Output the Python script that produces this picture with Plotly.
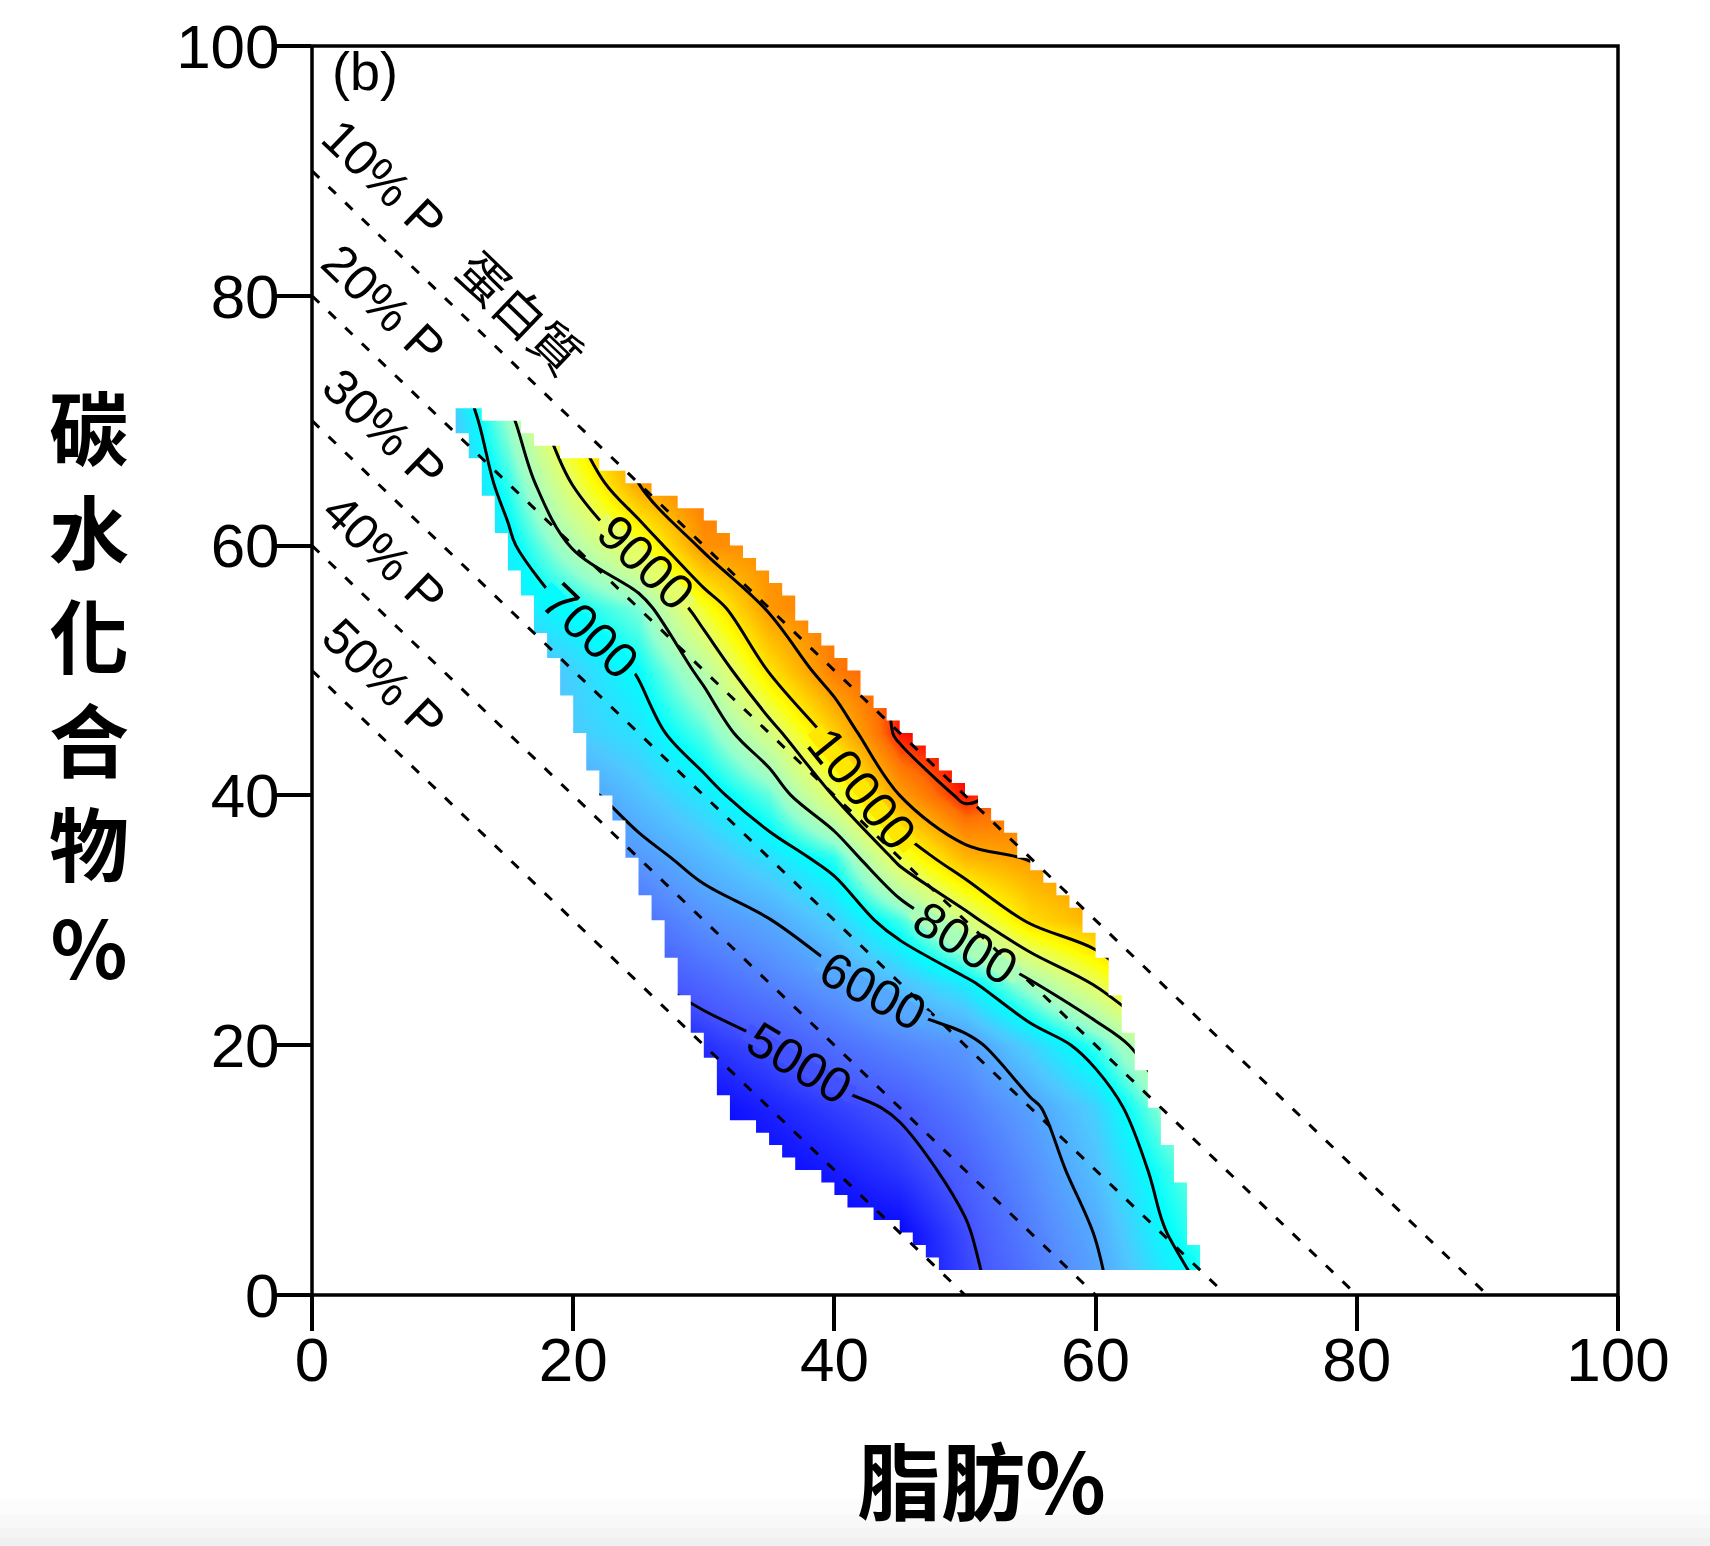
import plotly.graph_objects as go

# ---------------- data ----------------
FAT_GRID = [10, 15, 20, 25, 30, 35, 40, 45, 50, 55, 60, 65, 70]
CARB_GRID = [0, 5, 10, 15, 20, 25, 30, 35, 40, 45, 50, 55, 60, 65, 70, 75]
N = None
# estimated value field (rows = carbohydrate %, columns = fat %)
ENERGY = [
    [N, N, N, N, N, N, 4400, 4400, 4850, 5300, 5850, 6630, 7200],
    [N, N, N, N, N, 4400, 4400, 4450, 4950, 5490, 6020, 6940, 7600],
    [N, N, N, N, 4400, 4450, 4600, 4800, 5150, 5670, 6280, 7180, 7900],
    [N, N, N, N, 4450, 4650, 4850, 5060, 5450, 5900, 6500, 7680, 8600],
    [N, N, N, 4400, 4750, 4980, 5300, 5570, 5800, 6500, 7300, 8670, 9500],
    [N, N, N, 4920, 5200, 5520, 5830, 6290, 6830, 7910, 9100, 10500, N],
    [N, N, 4980, 5300, 5720, 5980, 6470, 7330, 8670, 10140, 10800, 11300, N],
    [N, N, 5400, 5800, 6200, 6650, 7220, 9250, 10670, 11050, 11300, N, N],
    [N, N, 5800, 6290, 6760, 7470, 9050, 11000, 12200, 11600, N, N, N],
    [N, 5900, 6400, 6700, 7430, 8670, 10330, 12200, 12600, 11950, N, N, N],
    [N, 6020, 6500, 7050, 8190, 10050, 11500, 12000, 11950, N, N, N, N],
    [5700, 6700, 7050, 7600, 9430, 11100, 11600, 11600, N, N, N, N, N],
    [5800, 6850, 8070, 9260, 11200, 11250, 11200, N, N, N, N, N, N],
    [6100, 7250, 9050, 11000, 11600, 11500, N, N, N, N, N, N, N],
    [6100, 7750, 10050, 11500, N, N, N, N, N, N, N, N, N],
    [6500, 8800, 10800, N, N, N, N, N, N, N, N, N, N],
]
Z_MIN, Z_MAX = 4400, 12300
# blue -> cyan -> yellow -> red ramp (perceptual interpolation), evenly spaced stops
COLOR_STOPS = [(0, 0, 255), (72, 90, 255), (87, 146, 255), (79, 200, 255), (0, 255, 255),
               (147, 255, 207), (196, 255, 158), (229, 255, 104), (255, 255, 0),
               (255, 209, 0), (255, 161, 0), (255, 113, 4), (255, 0, 0)]

CONTOUR_LEVELS = [5000, 12000, 1000]  # start, end, step
LABEL_TEXT = ["5000", "6000", "7000", "8000", "9000", "10000"]
LABEL_VALUE = [5000, 6000, 7000, 8000, 9000, 10000]
LABEL_FAT = [37.3, 42.9, 21.3, 50.0, 25.5, 42.1]
LABEL_CARB = [18.6, 24.3, 53.2, 28.2, 58.65, 40.5]
LABEL_ANGLE = [31, 28, 44, 32, 44, 51]

# extent of the data domain (fat %, carbohydrate %)
BOUNDARY_FAT = [11.3, 12.7, 12.7, 14.9, 17.2, 21.5, 23.7, 25.9, 29.2, 31.5, 34.3, 37.8,
                40.4, 42.2, 44.7, 48.0, 50.9, 54.2, 56.7, 59.3, 60.3, 61.8, 63.1, 64.6,
                66.2, 67.4, 67.6, 48.7, 47.3, 45.2, 42.2, 39.4, 35.8, 32.7, 31.4, 30.2,
                28.7, 27.9, 26.6, 25.1, 23.6, 22.0, 20.3, 18.7, 17.2, 15.7, 14.1, 12.9, 11.3]
BOUNDARY_CARB = [71.0, 71.0, 70.0, 70.0, 68.2, 66.6, 65.6, 64.6, 62.9, 60.8, 57.9, 54.1,
                 51.5, 48.8, 45.4, 42.7, 39.5, 35.8, 32.9, 29.9, 27.5, 23.3, 18.8, 14.5,
                 10.0, 5.4, 2.0, 2.0, 3.6, 5.4, 7.0, 8.9, 11.6, 14.2, 16.1, 19.6,
                 23.0, 25.7, 29.9, 33.1, 37.4, 40.5, 45.6, 50.1, 54.1, 57.9, 62.1, 65.6, 69.3]
CELL = 1.0  # resolution of the underlying data grid (%)

PROTEIN_LEVELS = [10, 20, 30, 40, 50]
PROTEIN_LABELS = ["10% P", "20% P", "30% P", "40% P", "50% P"]
PROTEIN_LABEL_FAT = 5.5

TICKS = [0, 20, 40, 60, 80, 100]
X_TITLE = "脂肪%"
Y_TITLE = "碳<br>水<br>化<br>合<br>物<br>%"
PANEL_TAG = "(b)"
PROTEIN_WORD = "蛋白質"

# ---------------- helpers ----------------
LAT = "Liberation Sans, Arial, Helvetica, sans-serif"
CJK = "Noto Sans CJK TC, Noto Sans CJK JP, Noto Sans CJK SC, sans-serif"

n_stops = len(COLOR_STOPS)
colorscale = [[i / (n_stops - 1), "rgb(%d,%d,%d)" % c] for i, c in enumerate(COLOR_STOPS)]


def level_color(v):
    t = min(max((v - Z_MIN) / (Z_MAX - Z_MIN), 0), 1) * (n_stops - 1)
    i = min(int(t), n_stops - 2)
    f = t - i
    a, b = COLOR_STOPS[i], COLOR_STOPS[i + 1]
    return "rgb(%d,%d,%d)" % tuple(round(a[k] + (b[k] - a[k]) * f) for k in range(3))


def row_extent(yc):
    xs = []
    n = len(BOUNDARY_FAT)
    for i in range(n):
        x1, y1 = BOUNDARY_FAT[i], BOUNDARY_CARB[i]
        x2, y2 = BOUNDARY_FAT[(i + 1) % n], BOUNDARY_CARB[(i + 1) % n]
        if (y1 <= yc < y2) or (y2 <= yc < y1):
            xs.append(x1 + (yc - y1) * (x2 - x1) / (y2 - y1))
    return min(xs), max(xs)


# outline of the data cells (stair-stepped, on the data grid)
ylo = round(min(BOUNDARY_CARB))
yhi = round(max(BOUNDARY_CARB))
rows = []
k = ylo
while k < yhi - 1e-9:
    lo, hi = row_extent(k + CELL / 2)
    rows.append((k, round(lo / CELL) * CELL, round(hi / CELL) * CELL))
    k += CELL
pts = []
for k, lo, hi in rows:
    pts += [(hi, k), (hi, k + CELL)]
for k, lo, hi in reversed(rows):
    pts += [(lo, k + CELL), (lo, k)]

# ---------------- figure ----------------
fig = go.Figure()
fig.add_trace(go.Heatmap(
    x=FAT_GRID, y=CARB_GRID, z=ENERGY, zmin=Z_MIN, zmax=Z_MAX,
    colorscale=colorscale, zsmooth="best", showscale=False, hoverinfo="skip"))

fig.add_trace(go.Contour(
    x=FAT_GRID, y=CARB_GRID, z=ENERGY,
    contours=dict(coloring="none", start=CONTOUR_LEVELS[0], end=CONTOUR_LEVELS[1],
                  size=CONTOUR_LEVELS[2], showlabels=False),
    line=dict(color="black", width=3, smoothing=1.0),
    showscale=False, hoverinfo="skip"))

shapes = []
# light shading at the very bottom of the page
for y0, y1, col in [(-0.1636, -0.1756, "#FCFCFC"), (-0.1756, -0.186, "#F8F8F8"),
                    (-0.186, -0.1939, "#F4F4F4"), (-0.1939, -0.21, "#F0F0F0")]:
    shapes.append(dict(type="rect", xref="paper", yref="paper", x0=-0.25, x1=1.08,
                       y0=y0, y1=y1, fillcolor=col, line=dict(width=0), layer="below"))
# white mask outside the data domain
outer = "M0,0L100,0L100,100L0,100Z"
inner = "M" + "L".join(f"{x},{y}" for x, y in pts) + "Z"
shapes.append(dict(type="path", xref="x", yref="y", path=outer + inner,
                   fillcolor="white", fillrule="evenodd", line=dict(width=0), layer="above"))
# constant-protein dashed lines
for p in PROTEIN_LEVELS:
    shapes.append(dict(type="line", xref="x", yref="y", x0=0, y0=100 - p, x1=100 - p, y1=0,
                       line=dict(color="black", width=3, dash="10px,13px"), layer="above"))
# frame
shapes.append(dict(type="rect", xref="paper", yref="paper", x0=0, y0=0, x1=1, y1=1,
                   line=dict(color="black", width=3.5), fillcolor="rgba(0,0,0,0)", layer="above"))

annotations = []
# contour labels: break in the line (painted in the level's own colour) + text
LABEL_SIZE = 50
for txt, val, fx, cy, ang in zip(LABEL_TEXT, LABEL_VALUE, LABEL_FAT, LABEL_CARB, LABEL_ANGLE):
    w = len(txt) * 0.556 * LABEL_SIZE + 12
    annotations.append(dict(x=fx, y=cy, xref="x", yref="y", text=txt, showarrow=False,
                            textangle=ang, width=w, height=16, borderpad=0,
                            bgcolor=level_color(val),
                            font=dict(family=LAT, size=LABEL_SIZE, color="rgba(0,0,0,0)")))
    annotations.append(dict(x=fx, y=cy, xref="x", yref="y", text=txt, showarrow=False,
                            textangle=ang,
                            font=dict(family=LAT, size=LABEL_SIZE, color="black")))

for p, lab in zip(PROTEIN_LEVELS, PROTEIN_LABELS):
    annotations.append(dict(x=PROTEIN_LABEL_FAT, y=99.3 - p, xref="x", yref="y", text=lab,
                            showarrow=False, textangle=44,
                            font=dict(family=LAT, size=50, color="black")))
annotations.append(dict(x=16.1, y=78.8, xref="x", yref="y", text=PROTEIN_WORD, showarrow=False,
                        textangle=44, font=dict(family=CJK, size=50, color="black")))
annotations.append(dict(x=4.05, y=98.0, xref="x", yref="y", text=PANEL_TAG, showarrow=False,
                        font=dict(family=LAT, size=54, color="black")))
annotations.append(dict(x=0.513, y=-0.146, xref="paper", yref="paper", text=X_TITLE,
                        showarrow=False, xanchor="center", yanchor="middle",
                        font=dict(family=CJK, size=84, color="black", weight="bold")))
annotations.append(dict(x=-0.1707, y=0.489, xref="paper", yref="paper", text=Y_TITLE,
                        showarrow=False, xanchor="center", yanchor="middle", align="center",
                        font=dict(family=CJK, size=80, color="black", weight="bold")))

axis_common = dict(range=[0, 100], tickvals=TICKS, ticks="outside", ticklen=35, tickwidth=3.5,
                   tickcolor="black", showgrid=False, zeroline=False, showline=False,
                   tickfont=dict(family=LAT, size=62, color="black"))

fig.update_layout(
    width=1710, height=1546,
    margin=dict(l=312, r=92, t=42, b=251),
    paper_bgcolor="white", plot_bgcolor="white",
    xaxis=dict(axis_common, ticklabelstandoff=-24),
    yaxis=dict(axis_common, ticklabelstandoff=-16),
    shapes=shapes, annotations=annotations, showlegend=False,
)

fig.write_html("out.html")
